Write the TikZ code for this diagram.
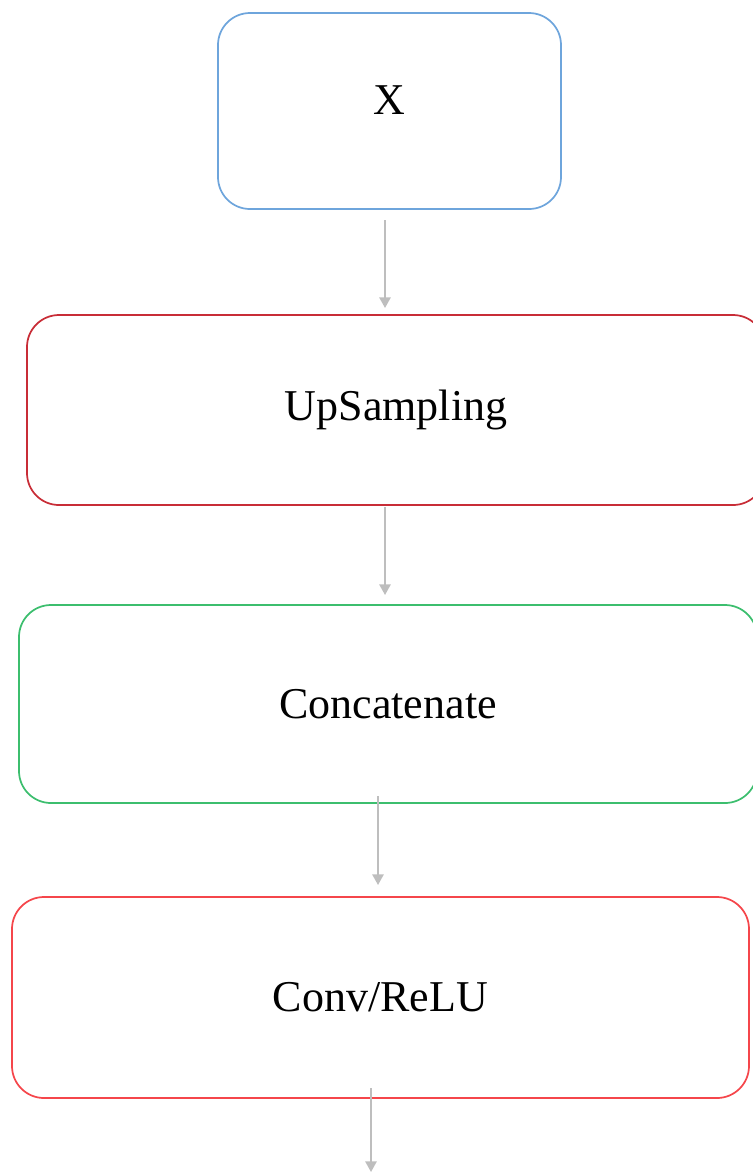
\documentclass[tikz,border=0pt]{standalone}
\usepackage{fontspec}
\setmainfont{Liberation Serif}
\usetikzlibrary{arrows.meta}

\definecolor{inblue}{RGB}{110,165,220}
\definecolor{updark}{RGB}{200,45,55}
\definecolor{catgreen}{RGB}{60,190,110}
\definecolor{convred}{RGB}{245,70,75}
\definecolor{flowgray}{RGB}{190,190,190}

\tikzset{
  block/.style={draw, rounded corners=24pt, line width=1.3pt, inner sep=0pt,
    outer sep=0pt, font=\fontsize{33}{40}\selectfont},
  flow/.style={draw=flowgray, line width=1.3pt,
    -{Triangle[length=8pt,width=8.5pt]}}
}

\begin{document}
\begin{tikzpicture}[x=0.75pt, y=-0.75pt]

      % page frame
      \useasboundingbox (0,0) rectangle (753,1172);
      \clip (0,0) rectangle (753,1172);

      % Blocks
      \node[block, draw=inblue, minimum width=257.25pt, minimum height=147pt,
          text depth=16pt] (x) at (389.5,111) {X};
      \node[block, draw=updark, minimum width=553.5pt, minimum height=142.5pt]
          (up) at (396,410) {UpSampling};
      \node[block, draw=catgreen, minimum width=553.5pt, minimum height=148.5pt]
          (cat) at (388,704) {Concatenate};
      \node[block, draw=convred, minimum width=552.75pt, minimum height=150.75pt]
          (conv) at (380.5,997.5) {Conv/ReLU};

      % output end
      \coordinate (out) at (371,1172);

      % Arrows
      \draw[flow] ([shift={(-4.5,11)}]x.south) -- ([shift={(-11,-7)}]up.north);
      \draw[flow] ([shift={(-11,2)}]up.south) -- ([shift={(-3,-10)}]cat.north);
      \draw[flow] ([shift={(-10,-7)}]cat.south) -- ([shift={(-2.5,-12)}]conv.north);
      \draw[flow] ([shift={(-9.5,-10)}]conv.south) -- (out);

\end{tikzpicture}
\end{document}
